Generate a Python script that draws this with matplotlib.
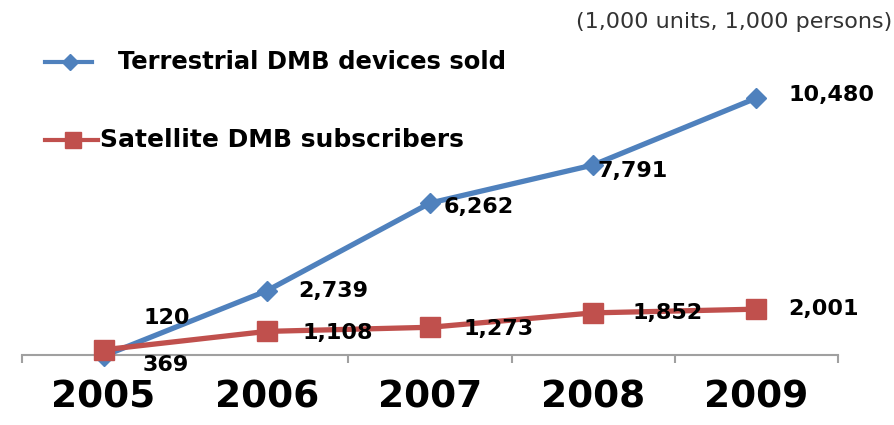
import matplotlib.pyplot as plt
from matplotlib.lines import Line2D

years = ["2005", "2006", "2007", "2008", "2009"]
terrestrial = [120, 2739, 6262, 7791, 10480]   # devices sold, 1,000 units
satellite = [369, 1108, 1273, 1852, 2001]      # subscribers, 1,000 persons

# label offsets in points (dx, dy) from each marker
terr_offsets = [(29, 27), (23, 0), (10, -3), (3, -4), (23, 2)]
sat_offsets = [(28, -11), (26, -1), (24, -1), (28, 0), (23, 0)]

blue = "#4F81BD"
red = "#C0504D"
W, H = 895, 425

fig = plt.figure(figsize=(W / 100, H / 100), dpi=100)
ax = fig.add_axes([22 / W, 1 - 355 / H, 816 / W, 355 / H])

x = list(range(len(years)))
ax.plot(x, satellite, color=red, lw=3.8, marker="s", ms=15, zorder=3,
        clip_on=False)
ax.plot(x, terrestrial, color=blue, lw=3.8, marker="D", ms=10, zorder=2,
        clip_on=False)

lab = dict(fontsize=16, fontweight="bold", color="black",
           textcoords="offset points", ha="left", va="center",
           annotation_clip=False)
for xi, v, off in zip(x, terrestrial, terr_offsets):
    ax.annotate(f"{v:,}", (xi, v), xytext=off, **lab)
for xi, v, off in zip(x, satellite, sat_offsets):
    ax.annotate(f"{v:,}", (xi, v), xytext=off, **lab)

ax.set_xlim(-0.5, len(years) - 0.5)
ax.set_ylim(160, 14417)
for s in ["top", "right", "left"]:
    ax.spines[s].set_visible(False)
ax.spines["bottom"].set_color("#A0A0A0")
ax.spines["bottom"].set_linewidth(1.5)
ax.set_yticks([])
ax.set_xticks(x)
ax.set_xticklabels(years, fontsize=27, fontweight="bold")
ax.tick_params(axis="x", which="major", length=0, pad=18)
ax.set_xticks([i - 0.5 for i in range(len(years) + 1)], minor=True)
ax.tick_params(axis="x", which="minor", length=6, width=1.5, color="#A0A0A0")

# legend drawn by hand in pixel coordinates
def px(xp, yp):
    return xp / W, 1 - yp / H

fig.add_artist(Line2D([45 / W, 92 / W], [1 - 62 / H] * 2, color=blue, lw=3,
                      transform=fig.transFigure))
fig.add_artist(Line2D([70 / W], [1 - 62 / H], color=blue, marker="D", ms=8,
                      transform=fig.transFigure))
fig.text(*px(118, 62), "Terrestrial DMB devices sold", fontsize=17.5,
         fontweight="semibold", va="center", ha="left")
fig.add_artist(Line2D([45 / W, 98 / W], [1 - 140 / H] * 2, color=red, lw=3,
                      transform=fig.transFigure))
fig.add_artist(Line2D([73 / W], [1 - 140 / H], color=red, marker="s", ms=12,
                      transform=fig.transFigure))
fig.text(*px(100, 140), "Satellite DMB subscribers", fontsize=18,
         fontweight="heavy", va="center", ha="left")

fig.text(*px(892, 22), "(1,000 units, 1,000 persons)", fontsize=16,
         color="#333333", va="center", ha="right")

fig.savefig("out.png", dpi=100, facecolor="white")
